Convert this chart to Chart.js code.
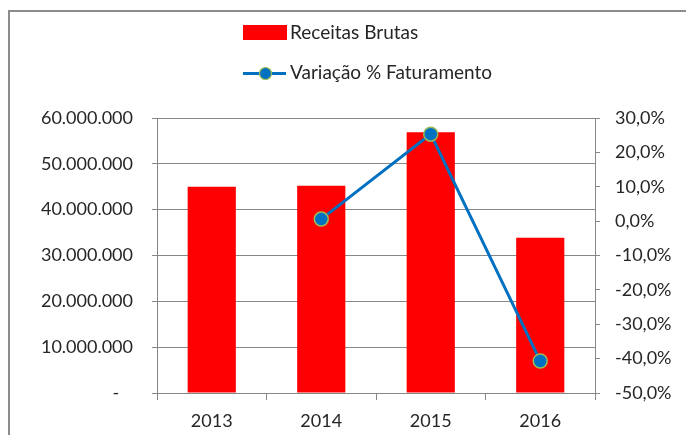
<!DOCTYPE html>
<html>
<head>
<meta charset="utf-8">
<script src="https://cdn.jsdelivr.net/npm/chart.js@4"></script>
<style>
html,body{margin:0;padding:0;background:#fff;}
#wrap{width:686px;height:435px;position:relative;}
</style>
</head>
<body>
<div id="wrap"><canvas id="c" width="686" height="435"></canvas></div>
<script>
const categories = ['2013', '2014', '2015', '2016'];
const receitasBrutas = [45000000, 45200000, 56900000, 33900000];
const variacaoFaturamento = [null, 0.6, 25.3, -40.7];
const leftTicks = [0, 10000000, 20000000, 30000000, 40000000, 50000000, 60000000];
const rightTicks = [-50, -40, -30, -20, -10, 0, 10, 20, 30];

const FONT = 'Lato, "Open Sans", sans-serif';
const TXT = '#262626';
const GRID = '#878787';

function fmtMoney(v){
  if (v === 0) return '-   ';
  return String(Math.round(v)).replace(/\B(?=(\d{3})+(?!\d))/g, '.');
}
function fmtPct(v){
  return v.toFixed(1).replace('.', ',') + '%';
}

const framePlugin = {
  id: 'frame',
  beforeDraw(chart){
    const ctx = chart.ctx;
    ctx.save();
    ctx.fillStyle = '#fff';
    ctx.fillRect(0, 0, chart.width, chart.height);
    ctx.strokeStyle = '#8c8c8c';
    ctx.lineWidth = 2;
    ctx.strokeRect(9, 11, 1000, 1000);
    ctx.restore();
  }
};

const legendPlugin = {
  id: 'customLegend',
  afterDraw(chart){
    const ctx = chart.ctx;
    const ds = chart.data.datasets;
    ctx.save();
    ctx.font = '19px ' + FONT;
    ctx.textBaseline = 'middle';
    ctx.textAlign = 'left';
    // bar entry
    ctx.fillStyle = ds[0].backgroundColor;
    ctx.fillRect(243, 25, 44, 15);
    ctx.fillStyle = TXT;
    ctx.fillText(ds[0].label, 290, 33);
    // line entry
    ctx.strokeStyle = ds[1].borderColor;
    ctx.lineWidth = 3;
    ctx.beginPath();
    ctx.moveTo(243, 73.5);
    ctx.lineTo(286, 73.5);
    ctx.stroke();
    ctx.beginPath();
    ctx.arc(265.5, 73.5, 6, 0, Math.PI * 2);
    ctx.fillStyle = ds[1].pointBackgroundColor;
    ctx.fill();
    ctx.lineWidth = 1.2;
    ctx.strokeStyle = ds[1].pointBorderColor;
    ctx.stroke();
    ctx.fillStyle = TXT;
    ctx.fillText(ds[1].label, 290, 73);
    ctx.restore();
  }
};

new Chart(document.getElementById('c'), {
  type: 'bar',
  data: {
    labels: categories,
    datasets: [
      {
        type: 'bar',
        label: 'Receitas Brutas',
        data: receitasBrutas,
        backgroundColor: '#ff0000',
        borderWidth: 0,
        categoryPercentage: 1,
        barPercentage: 0.44,
        yAxisID: 'y',
        order: 1
      },
      {
        type: 'line',
        label: 'Variação % Faturamento',
        data: variacaoFaturamento,
        borderColor: '#0070c0',
        borderWidth: 3,
        pointBackgroundColor: '#0070c0',
        pointBorderColor: '#9bbb59',
        pointBorderWidth: 1.5,
        pointRadius: 7,
        pointHoverRadius: 7,
        tension: 0,
        yAxisID: 'y1',
        order: 0
      }
    ]
  },
  options: {
    responsive: false,
    animation: false,
    devicePixelRatio: 1,
    layout: { padding: { top: 118, left: 0, right: 0, bottom: 0 } },
    plugins: {
      legend: { display: false },
      tooltip: { enabled: false }
    },
    scales: {
      x: {
        grid: {
          display: true,
          drawOnChartArea: false,
          drawTicks: true,
          tickLength: 7,
          color: GRID,
          offset: true
        },
        border: { display: true, color: GRID },
        ticks: { font: { family: FONT, size: 18 }, color: TXT, padding: 10 },
        afterFit(s){ s.height = 42; }
      },
      y: {
        position: 'left',
        min: 0,
        max: 60000000,
        afterBuildTicks(s){ s.ticks = leftTicks.map(v => ({ value: v })); },
        grid: { color: GRID, tickLength: 5, drawTicks: true },
        border: { display: true, color: GRID },
        ticks: {
          font: { family: FONT, size: 18 },
          color: TXT,
          padding: 19,
          callback: v => fmtMoney(v)
        },
        afterFit(s){ s.width = 157; }
      },
      y1: {
        position: 'right',
        min: -50,
        max: 30,
        afterBuildTicks(s){ s.ticks = rightTicks.map(v => ({ value: v })); },
        grid: { drawOnChartArea: false, color: GRID, tickLength: 5, drawTicks: true },
        border: { display: true, color: GRID },
        ticks: {
          font: { family: FONT, size: 18 },
          color: TXT,
          padding: 15,
          callback: v => fmtPct(v)
        },
        afterFit(s){ s.width = 91; }
      }
    }
  },
  plugins: [framePlugin, legendPlugin]
});
</script>
</body>
</html>
